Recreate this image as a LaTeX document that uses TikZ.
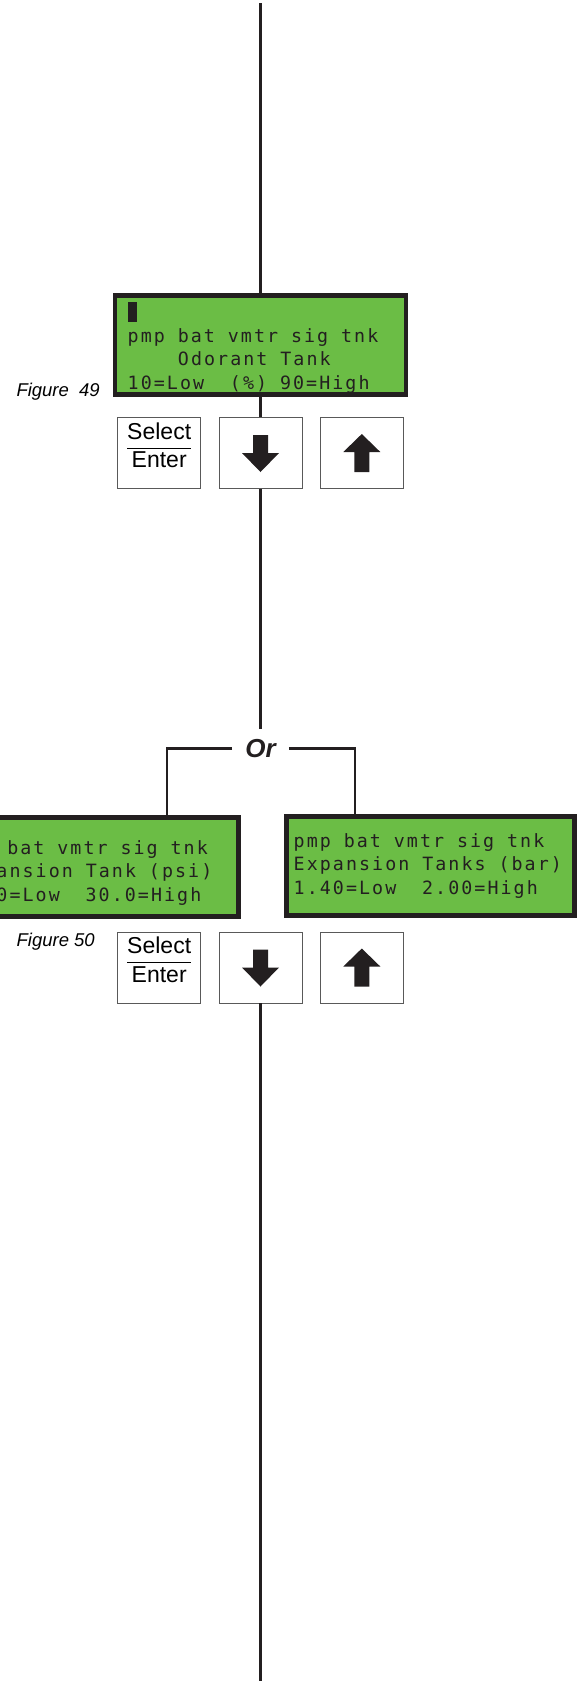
\documentclass[tikz,border=0pt]{standalone}
\usepackage{fontspec}
\usepackage{tikz}
\usetikzlibrary{positioning}
\newfontfamily\lcdfont[LetterSpace=11.3]{DejaVu Sans Mono}
\newfontfamily\helvfont{Liberation Sans}
\definecolor{lcdgreen}{RGB}{107,189,69}
\definecolor{inkblack}{RGB}{35,31,32}
\def\downarrowshape{(-7.5,-18) -- (7.5,-18) -- (7.5,0) -- (18.5,0) -- (0,19) -- (-18.5,0) -- (-7.5,0) -- cycle}
\def\uparrowshape{(-7.5,19) -- (7.5,19) -- (7.5,-1) -- (18.5,-1) -- (0,-19) -- (-18.5,-1) -- (-7.5,-1) -- cycle}
\newcommand{\lcdsize}{\lcdfont\fontsize{18.3}{23.5}\selectfont
  \spaceskip=12.9pt plus 0pt minus 0pt\xspaceskip=12.9pt plus 0pt minus 0pt\relax}
\newcommand{\selectenter}{{\helvfont\fontsize{23}{27.6}\selectfont\setlength{\arrayrulewidth}{1pt}%
  \begin{tabular}{@{}c@{}}Select\\\hline Enter\end{tabular}}}
\tikzset{
  lcd/.style={draw=inkblack, line width=4.8pt, fill=lcdgreen, minimum height=99pt, inner sep=0pt},
  lcdtext/.style={anchor=west, inner sep=0pt, align=left, text=inkblack, font=\lcdsize},
  keybox/.style={draw=black!65, line width=0.8pt, minimum width=83pt, minimum height=71pt, inner sep=0pt},
  wire/.style={draw=inkblack, line width=2.6pt},
  figlabel/.style={font=\helvfont\itshape\fontsize{18.5}{22}\selectfont, anchor=east, inner sep=0pt}
}

\begin{document}
\begin{tikzpicture}[x=1pt,y=-1pt]
    \useasboundingbox (0,0) rectangle (578,1681);
    \coordinate (top) at (260.5,3);
    \coordinate (bottom) at (260.5,1681);

    % Figure 49
    \node[lcd, minimum width=291pt] (disp49) at (260.5,345) {};
    \node[lcdtext] (disp49txt) at (127.5,347.5)
        {\rule[-3pt]{9pt}{20pt}\\pmp bat vmtr sig tnk\\\phantom{0000}Odorant Tank\\10=Low\ \ (\%) 90=High};
    \node[figlabel] (fig49) at (100,392) {Figure\ \ 49};
    \node[keybox] (dn49) at (260.5,453) {};
    \node[keybox, left=17.5pt of dn49] (sel49) {};
    \node[keybox, right=17.5pt of dn49] (up49) {};
    \node[inner sep=0pt] (sel49t) at ([yshift=5pt]sel49.center) {\selectenter};
    \fill[inkblack, shift={(dn49.center)}] \downarrowshape;
    \fill[inkblack, shift={(up49.center)}] \uparrowshape;

    % Or
    \node[font=\helvfont\bfseries\itshape\fontsize{26}{30}\selectfont, text=inkblack,
        inner xsep=13pt, inner ysep=10pt] (or) at (260.5,748.5) {Or};

    % Figure 50
    \node[lcd, minimum width=290pt] (psi) at (93.5,867) {};
    \node[lcdtext] (psitxt) at (-43,873)
        {pmp bat vmtr sig tnk\\Expansion Tank (psi)\\10.0=Low\ \ 30.0=High};
    \node[lcd, minimum width=288pt] (bar) at (430.5,866) {};
    \node[lcdtext] (bartxt) at (293.5,866)
        {pmp bat vmtr sig tnk\\Expansion Tanks (bar)\\1.40=Low\ \ 2.00=High};
    \node[figlabel] (fig50) at (95,942) {Figure 50};
    \node[keybox] (dn50) at (260.5,967.5) {};
    \node[keybox, left=17.5pt of dn50] (sel50) {};
    \node[keybox, right=17.5pt of dn50] (up50) {};
    \node[inner sep=0pt] (sel50t) at ([yshift=5pt]sel50.center) {\selectenter};
    \fill[inkblack, shift={(dn50.center)}] \downarrowshape;
    \fill[inkblack, shift={(up50.center)}] \uparrowshape;

    % connectors
    \draw[wire] (top) -- (disp49.north);
    \draw[wire] (disp49.south) -- (dn49.north);
    \draw[wire] (dn49.south) -- (or.north);
    \draw[wire] (or.west) -| ([xshift=73.5pt]psi.north);
    \draw[wire] (or.east) -| ([xshift=-75.5pt]bar.north);
    \draw[wire] (dn50.south) -- (bottom);
\end{tikzpicture}
\end{document}
